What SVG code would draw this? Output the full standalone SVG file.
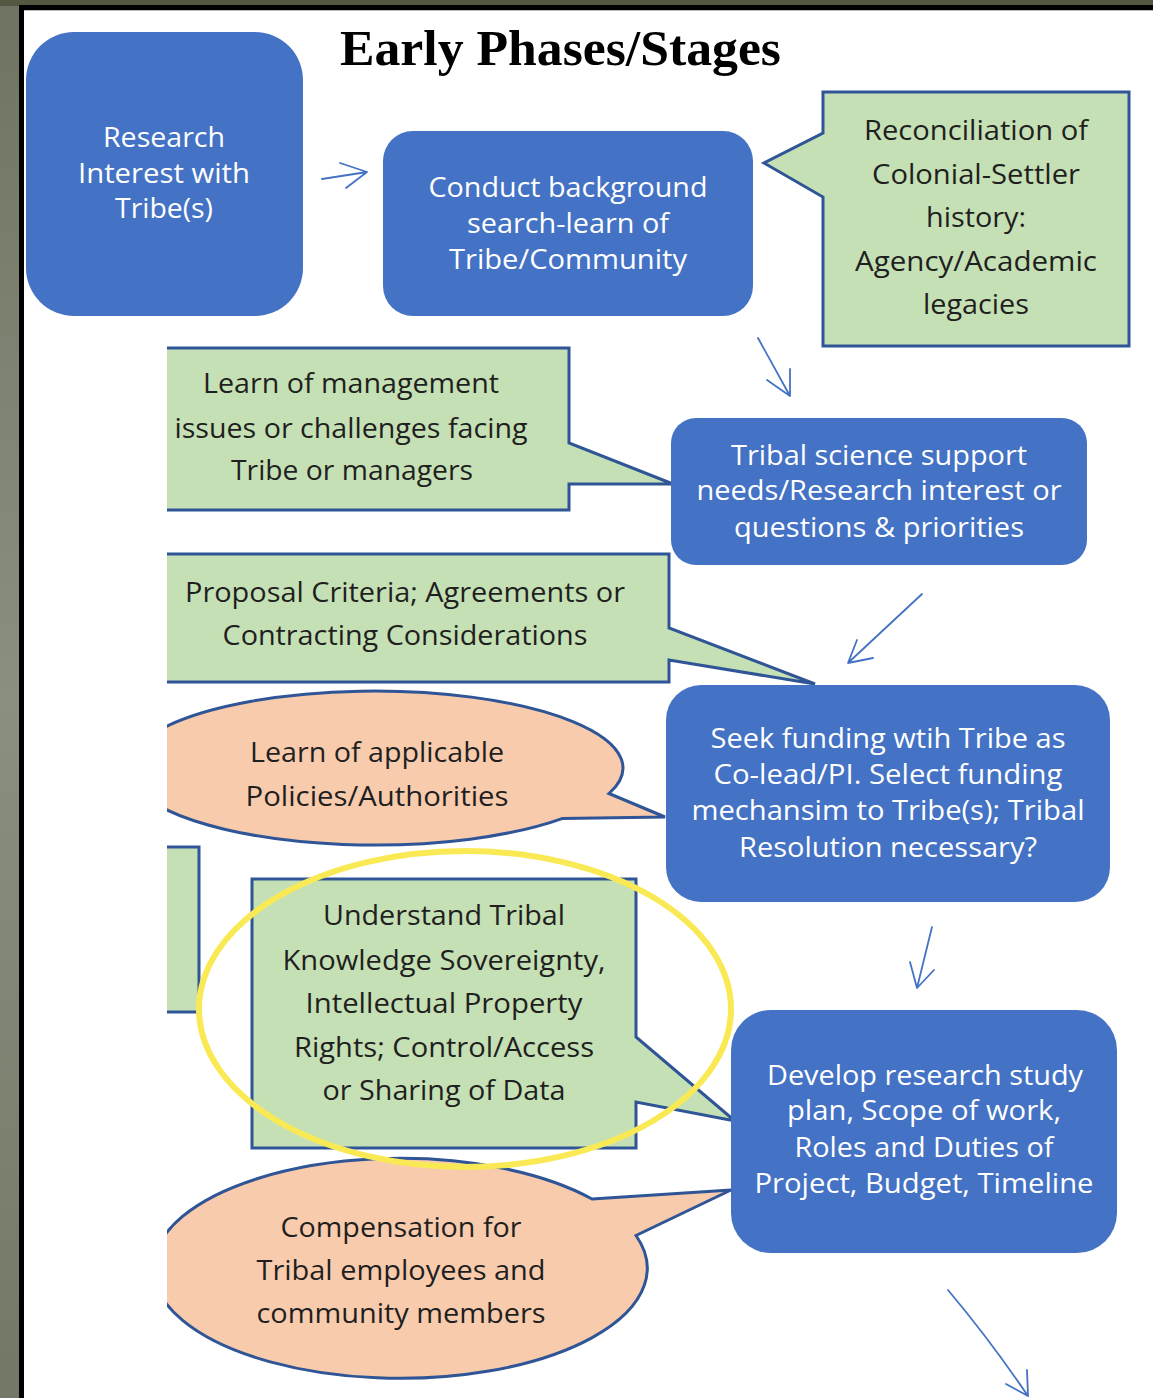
<svg xmlns="http://www.w3.org/2000/svg" width="1153" height="1398" viewBox="0 0 1153 1398">
<style>
.box{fill:#4472C4;}
.green{fill:#C5E0B4;stroke:#2F5597;stroke-width:3;stroke-linejoin:miter;}
.orange{fill:#F8CBAD;stroke:#2F5597;stroke-width:3;}
.wt{font-family:"Open Sans","Liberation Sans",sans-serif;font-size:28px;fill:#FFFFFF;text-anchor:middle;}
.bt{font-family:"Open Sans","Liberation Sans",sans-serif;font-size:27px;fill:#1F1F1F;text-anchor:middle;}
.arrow{fill:none;stroke:#4472C4;stroke-width:1.8;stroke-linecap:round;stroke-linejoin:round;}
.title{font-family:"Liberation Serif",serif;font-weight:bold;font-size:50px;fill:#000000;}
</style>
<defs>
<clipPath id="leftclip"><rect x="167" y="0" width="986" height="1398"/></clipPath>
<linearGradient id="bg" x1="0" y1="0" x2="0" y2="1">
<stop offset="0" stop-color="#6f7462"/>
<stop offset="0.5" stop-color="#8a8f80"/>
<stop offset="1" stop-color="#737866"/>
</linearGradient>
</defs>
<rect x="0" y="0" width="1153" height="1398" fill="url(#bg)"/>
<rect x="0" y="0" width="1153" height="6" fill="#545840"/>
<rect x="19" y="5" width="1134" height="1393" fill="#000000"/>
<rect x="24" y="10" width="1129" height="1388" fill="#FFFFFF"/>
<line x1="24" y1="10.5" x2="1153" y2="10.5" stroke="#BBBBBB" stroke-width="1"/>

<text class="title" x="340" y="65" textLength="441" lengthAdjust="spacingAndGlyphs">Early Phases/Stages</text>

<g id="connectors">
<path class="arrow" d="M322,179 L367,172 M340,163 L367,172 L346,188"/>
<path class="arrow" d="M758,338 L790,396 M767,380 L790,396 L790,369"/>
<path class="arrow" d="M922,594 L848,663 M857,640 L848,663 L873,658"/>
<path class="arrow" d="M932,927 L917,988 M910,962 L917,988 L934,970"/>
<path class="arrow" d="M948,1290 Q990,1340 1028,1396 M1006,1384 L1028,1396 L1027,1370"/>
</g>

<g id="research-interest">
<rect class="box" x="26" y="32" width="277" height="284" rx="48"/>
<text class="wt" x="164" y="147" textLength="122" lengthAdjust="spacingAndGlyphs">Research</text>
<text class="wt" x="164" y="183" textLength="172" lengthAdjust="spacingAndGlyphs">Interest with</text>
<text class="wt" x="164" y="218" textLength="98" lengthAdjust="spacingAndGlyphs">Tribe(s)</text>
</g>

<g id="background-search">
<rect class="box" x="383" y="131" width="370" height="185" rx="30"/>
<text class="wt" x="568" y="197" textLength="279" lengthAdjust="spacingAndGlyphs">Conduct background</text>
<text class="wt" x="568" y="233" textLength="202" lengthAdjust="spacingAndGlyphs">search-learn of</text>
<text class="wt" x="568" y="269" textLength="238" lengthAdjust="spacingAndGlyphs">Tribe/Community</text>
</g>

<g id="reconciliation">
<path class="green" d="M823,92 H1129 V346 H823 V197 L764,163 L823,133 Z"/>
<text class="bt" x="976" y="140" textLength="224" lengthAdjust="spacingAndGlyphs">Reconciliation of</text>
<text class="bt" x="976" y="184" textLength="208" lengthAdjust="spacingAndGlyphs">Colonial-Settler</text>
<text class="bt" x="976" y="227" textLength="100" lengthAdjust="spacingAndGlyphs">history:</text>
<text class="bt" x="976" y="271" textLength="242" lengthAdjust="spacingAndGlyphs">Agency/Academic</text>
<text class="bt" x="976" y="314" textLength="106" lengthAdjust="spacingAndGlyphs">legacies</text>
</g>

<g id="management-issues">
<path class="green" clip-path="url(#leftclip)" d="M140,348 H569 V443 L673,484 H569 V510 H140 Z"/>
<text class="bt" x="351" y="393" textLength="296" lengthAdjust="spacingAndGlyphs">Learn of management</text>
<text class="bt" x="351" y="438" textLength="353" lengthAdjust="spacingAndGlyphs">issues or challenges facing</text>
<text class="bt" x="352" y="480" textLength="242" lengthAdjust="spacingAndGlyphs">Tribe or managers</text>
</g>

<g id="tribal-science">
<rect class="box" x="671" y="418" width="416" height="147" rx="25"/>
<text class="wt" x="879" y="465" textLength="296" lengthAdjust="spacingAndGlyphs">Tribal science support</text>
<text class="wt" x="879" y="500" textLength="365" lengthAdjust="spacingAndGlyphs">needs/Research interest or</text>
<text class="wt" x="879" y="537" textLength="290" lengthAdjust="spacingAndGlyphs">questions &amp; priorities</text>
</g>

<g id="proposal-criteria">
<path class="green" clip-path="url(#leftclip)" d="M140,554 H669 V628 L815,684 L669,660 V682 H140 Z"/>
<text class="bt" x="405" y="602" textLength="440" lengthAdjust="spacingAndGlyphs">Proposal Criteria; Agreements or</text>
<text class="bt" x="405" y="645" textLength="365" lengthAdjust="spacingAndGlyphs">Contracting Considerations</text>
</g>

<g id="seek-funding">
<rect class="box" x="666" y="685" width="444" height="217" rx="35"/>
<text class="wt" x="888" y="748" textLength="355" lengthAdjust="spacingAndGlyphs">Seek funding wtih Tribe as</text>
<text class="wt" x="888" y="784" textLength="349" lengthAdjust="spacingAndGlyphs">Co-lead/PI. Select funding</text>
<text class="wt" x="888" y="820" textLength="393" lengthAdjust="spacingAndGlyphs">mechansim to Tribe(s); Tribal</text>
<text class="wt" x="888" y="857" textLength="298" lengthAdjust="spacingAndGlyphs">Resolution necessary?</text>
</g>

<g id="policies">
<path class="orange" clip-path="url(#leftclip)" d="M609,793.5 L665,817 L562,818.6 A248,77 0 1 1 609,793.5 Z"/>
<text class="bt" x="377" y="762" textLength="254" lengthAdjust="spacingAndGlyphs">Learn of applicable</text>
<text class="bt" x="377" y="806" textLength="263" lengthAdjust="spacingAndGlyphs">Policies/Authorities</text>
</g>

<g id="hidden-callout">
<path class="green" clip-path="url(#leftclip)" d="M140,847 H199 V1012 H140 Z"/>
</g>

<g id="knowledge-sovereignty">
<path class="green" d="M252,879 H636 V1037 L735,1121 L636,1102 V1148 H252 Z"/>
<text class="bt" x="444" y="925" textLength="242" lengthAdjust="spacingAndGlyphs">Understand Tribal</text>
<text class="bt" x="444" y="970" textLength="323" lengthAdjust="spacingAndGlyphs">Knowledge Sovereignty,</text>
<text class="bt" x="444" y="1013" textLength="277" lengthAdjust="spacingAndGlyphs">Intellectual Property</text>
<text class="bt" x="444" y="1057" textLength="300" lengthAdjust="spacingAndGlyphs">Rights; Control/Access</text>
<text class="bt" x="444" y="1100" textLength="243" lengthAdjust="spacingAndGlyphs">or Sharing of Data</text>
</g>

<g id="develop-plan">
<rect class="box" x="731" y="1010" width="386" height="243" rx="40"/>
<text class="wt" x="925" y="1085" textLength="316" lengthAdjust="spacingAndGlyphs">Develop research study</text>
<text class="wt" x="924" y="1120" textLength="274" lengthAdjust="spacingAndGlyphs">plan, Scope of work,</text>
<text class="wt" x="924" y="1157" textLength="259" lengthAdjust="spacingAndGlyphs">Roles and Duties of</text>
<text class="wt" x="924" y="1193" textLength="339" lengthAdjust="spacingAndGlyphs">Project, Budget, Timeline</text>
</g>

<g id="compensation">
<path class="orange" clip-path="url(#leftclip)" d="M592,1199 L731,1190 L636,1235.5 A247,110 0 1 1 592,1199 Z"/>
<text class="bt" x="401" y="1237" textLength="241" lengthAdjust="spacingAndGlyphs">Compensation for</text>
<text class="bt" x="401" y="1280" textLength="289" lengthAdjust="spacingAndGlyphs">Tribal employees and</text>
<text class="bt" x="401" y="1323" textLength="289" lengthAdjust="spacingAndGlyphs">community members</text>
</g>

<g id="highlight">
<ellipse cx="465" cy="1009" rx="266" ry="158" fill="none" stroke="#F9EA55" stroke-width="6"/>
</g>
</svg>
